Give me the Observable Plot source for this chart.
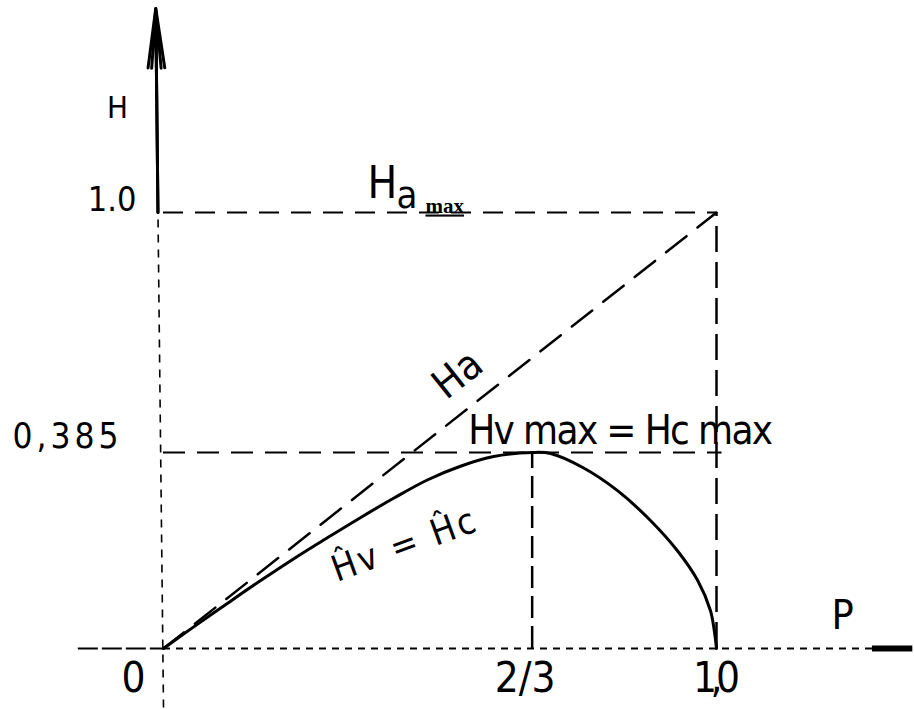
<!DOCTYPE html>
<html><head><meta charset="utf-8">
<script src="https://cdn.jsdelivr.net/npm/d3@7"></script>
<script src="https://cdn.jsdelivr.net/npm/@observablehq/plot@0.6"></script>
<style>
html,body{margin:0;padding:0;background:#fff;}
</style>
</head><body><div id="chart"></div>
<script>
// ---- data ----
const curveP = [0, 0.054, 0.116, 0.175, 0.235, 0.297, 0.356, 0.416, 0.477, 0.537, 0.597, 0.667, 0.700, 0.759, 0.821, 0.881, 0.929, 0.966, 0.989, 0.996, 1.0];
const curveH = [0, 0.042, 0.089, 0.133, 0.176, 0.218, 0.257, 0.295, 0.331, 0.358, 0.377, 0.385, 0.383, 0.355, 0.310, 0.251, 0.1925, 0.1335, 0.0746, 0.035, 0];
const haP = [0, 1];
const haH = [0, 1];
const xTicks = [0, 2/3, 1];
const xTickLabels = ["0", "2/3", "1,0"];
const yTicks = [0.385, 1];
const yTickLabels = ["0,385", "1.0"];
const pMax = 2/3, hMax = 0.385, haMax = 1;
const xAxisExtent = [-0.154, 1.282, 1.355];
const yAxisExtent = [-0.116, 1.523];

const curve = curveP.map((p, i) => ({P: p, H: curveH[i]}));
const ha = haP.map((p, i) => ({P: p, H: haH[i]}));
const xt = xTicks.map((v, i) => ({v, label: xTickLabels[i]}));
const yt = yTicks.map((v, i) => ({v, label: yTickLabels[i]}));

const sans = "'Liberation Sans Narrow','DejaVu Sans Condensed','Liberation Sans',sans-serif";
const serif = "'Liberation Serif','DejaVu Serif',serif";
const yArrow = [{x1: -0.01, y1: haMax, x2: -0.014, y2: yAxisExtent[1]}];
const xLabelShift = [-30, -7, 0];

const plot = Plot.plot({
  width: 914, height: 709, margin: 0,
  style: {background: "white", fontFamily: sans, color: "black", overflow: "visible"},
  x: {type: "linear", domain: [0, 1], range: [163, 716], axis: null},
  y: {type: "linear", domain: [0, hMax, haMax], range: [648, 452, 212], axis: null},
  marks: [
    // P axis
    Plot.ruleY([0], {x1: xAxisExtent[0], x2: 0, stroke: "black", strokeWidth: 2.2, strokeDasharray: "20,4"}),
    Plot.ruleY([0], {x1: 0, x2: xAxisExtent[1], stroke: "black", strokeWidth: 2, strokeDasharray: "7,6"}),
    Plot.ruleY([0], {x1: xAxisExtent[1], x2: xAxisExtent[2], stroke: "black", strokeWidth: 6}),
    // H axis
    Plot.link([{x1: 0, y1: yAxisExtent[0], x2: -0.01, y2: haMax}], {x1: "x1", y1: "y1", x2: "x2", y2: "y2", stroke: "black", strokeWidth: 1.6, strokeDasharray: "8,7"}),
    Plot.arrow(yArrow, {x1: "x1", y1: "y1", x2: "x2", y2: "y2", stroke: "black", strokeWidth: 3, headLength: 30, headAngle: 16}),
    Plot.arrow(yArrow, {x1: "x1", y1: "y1", x2: "x2", y2: "y2", stroke: "black", strokeWidth: 3, headLength: 30, headAngle: 9}),
    // guide lines
    Plot.ruleY([haMax], {x1: 0, x2: 1, stroke: "black", strokeWidth: 2, strokeDasharray: "20,12"}),
    Plot.ruleY([hMax], {x1: 0, x2: 1.01, stroke: "black", strokeWidth: 2, strokeDasharray: "22,12"}),
    Plot.ruleX([1], {y1: 0, y2: haMax, stroke: "black", strokeWidth: 2.5, strokeDasharray: "26,10"}),
    Plot.ruleX([pMax], {y1: 0, y2: hMax, stroke: "black", strokeWidth: 2.5, strokeDasharray: "22,8"}),
    // Ha line
    Plot.line(ha, {x: "P", y: "H", stroke: "black", strokeWidth: 2.5, strokeDasharray: "26,14"}),
    // Hv = Hc curve
    Plot.line(curve, {x: "P", y: "H", curve: "catmull-rom", stroke: "black", strokeWidth: 3}),
    // tick labels
    Plot.text(yt.filter(d => d.v === 1), {x: 0, y: "v", text: "label", textAnchor: "end", lineAnchor: "bottom", dx: -27, dy: -2, fontSize: 34}),
    Plot.text(yt.filter(d => d.v !== 1), {x: 0, y: "v", text: "label", textAnchor: "end", lineAnchor: "bottom", dx: -45, dy: -5, fontSize: 35}),
    ...xt.map((d, i) => Plot.text([d], {x: "v", y: 0, text: "label", lineAnchor: "top", dx: xLabelShift[i], dy: 14, fontSize: 42})),
    // axis titles
    Plot.text(["P"], {x: 1, y: 0, text: d => d, textAnchor: "start", lineAnchor: "bottom", dx: 115, dy: -20, fontSize: 41}),
    Plot.text(["H"], {x: 0, y: haMax, text: d => d, textAnchor: "middle", lineAnchor: "bottom", dx: -46, dy: -95, fontSize: 31}),
    // Ha max label
    Plot.text(["H"], {x: 0, y: haMax, text: d => d, textAnchor: "start", lineAnchor: "bottom", dx: 204, dy: -15, fontSize: 44}),
    Plot.text(["a"], {x: 0, y: haMax, text: d => d, textAnchor: "start", lineAnchor: "bottom", dx: 233, dy: -5, fontSize: 38}),
    Plot.text(["max"], {x: 0, y: haMax, text: d => d, textAnchor: "start", lineAnchor: "bottom", dx: 262, dy: 0, fontSize: 21, fontFamily: serif, fontWeight: "bold"}),
    // Ha along line
    Plot.text(["Ha"], {x: 0.532, y: hMax, text: d => d, textAnchor: "middle", lineAnchor: "middle", dy: -78, rotate: -38.7, fontSize: 41}),
    // Hv max = Hc max
    Plot.text(["Hv max = Hc max"], {x: pMax, y: hMax, text: d => d, textAnchor: "start", lineAnchor: "bottom", dx: -64, dy: -9, fontSize: 40}),
    // Hv = Hc on curve
    Plot.text(["Ĥv = Ĥc"], {x: 0.434, y: 0, text: d => d, textAnchor: "middle", lineAnchor: "middle", dy: -103, rotate: -20, fontSize: 36})
  ]
});

const fit = {"0,385": 106, "Hv max = Hc max": 305, "1,0": 47, "Ĥv = Ĥc": 150};
d3.select(plot).selectAll("text").each(function() {
  const t = this.textContent;
  if (fit[t]) { this.setAttribute("textLength", fit[t]); this.setAttribute("lengthAdjust", "spacing"); }
  if (t === "max") this.setAttribute("text-decoration", "underline");
});
document.getElementById("chart").appendChild(plot);
</script>
</body></html>
